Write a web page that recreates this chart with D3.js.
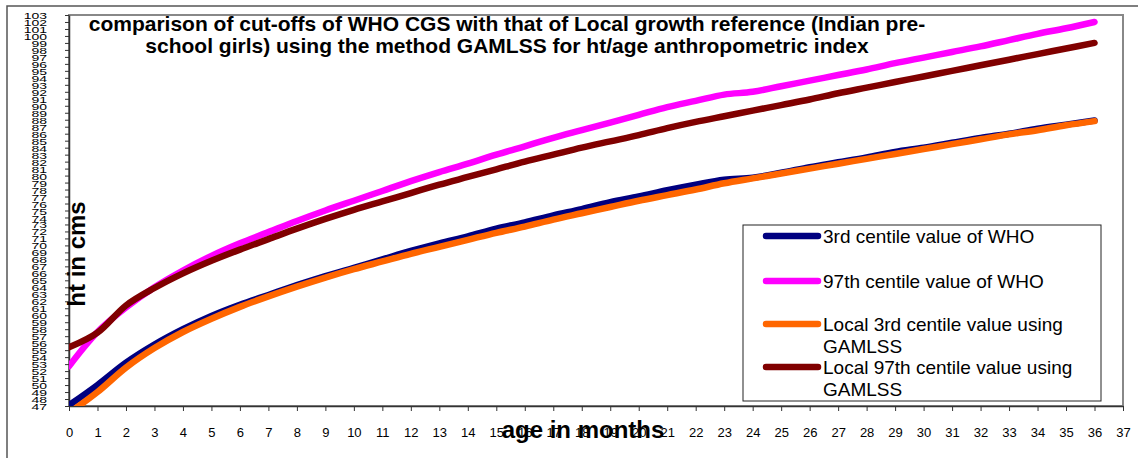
<!DOCTYPE html>
<html>
<head>
<meta charset="utf-8">
<script src="https://cdn.jsdelivr.net/npm/d3@7"></script>
<style>
    body { margin: 0; background: #fff; }
    svg { display: block; font-family: Arial, "Liberation Sans", sans-serif; }
</style>
</head>
<body>
<div id="chart"></div>
<script>
// age in months (x) and the four centile series (ht in cms)
const months = [0, 1, 2, 3, 4, 5, 6, 7, 8, 9, 10, 11, 12, 13, 14, 15, 16, 17, 18,
    19, 20, 21, 22, 23, 24, 25, 26, 27, 28, 29, 30, 31, 32, 33, 34, 35, 36];

const who3 = [47.1, 50.0, 53.2, 55.8, 58.0, 59.9, 61.5, 62.9, 64.3, 65.6, 66.8, 68.0, 69.2,
    70.3, 71.3, 72.4, 73.3, 74.3, 75.2, 76.2, 77.0, 77.9, 78.7, 79.4, 79.7, 80.4, 81.2,
    81.9, 82.6, 83.4, 84.0, 84.7, 85.4, 86.0, 86.7, 87.3, 87.9];

const who97 = [52.7, 57.6, 61.1, 64.0, 66.4, 68.5, 70.3, 71.9, 73.5, 75.0, 76.4, 77.8, 79.2,
    80.5, 81.7, 83.0, 84.2, 85.4, 86.5, 87.6, 88.7, 89.8, 90.7, 91.6, 92.0, 92.8, 93.6,
    94.4, 95.2, 96.1, 96.9, 97.7, 98.5, 99.4, 100.3, 101.1, 102.0];

const local3 = [46.0, 49.0, 52.5, 55.3, 57.6, 59.5, 61.2, 62.7, 64.1, 65.4, 66.6, 67.7, 68.8,
    69.8, 70.8, 71.8, 72.7, 73.7, 74.6, 75.5, 76.4, 77.2, 78.0, 78.9, 79.6, 80.3, 81.0,
    81.7, 82.4, 83.1, 83.8, 84.5, 85.2, 85.9, 86.5, 87.2, 87.8];

const local97 = [55.4, 57.5, 61.4, 63.9, 66.0, 67.8, 69.4, 70.9, 72.4, 73.8, 75.1, 76.3, 77.5,
    78.7, 79.8, 80.9, 82.0, 83.0, 84.0, 84.9, 85.8, 86.8, 87.7, 88.5, 89.3, 90.1, 90.9,
    91.8, 92.6, 93.4, 94.2, 95.0, 95.8, 96.6, 97.4, 98.2, 99.0];

const xTicks = [0, 1, 2, 3, 4, 5, 6, 7, 8, 9, 10, 11, 12, 13, 14, 15, 16, 17, 18, 19,
    20, 21, 22, 23, 24, 25, 26, 27, 28, 29, 30, 31, 32, 33, 34, 35, 36, 37];
const yTicks = [47, 48, 49, 50, 51, 52, 53, 54, 55, 56, 57, 58, 59, 60, 61, 62, 63, 64, 65,
    66, 67, 68, 69, 70, 71, 72, 73, 74, 75, 76, 77, 78, 79, 80, 81, 82, 83, 84, 85, 86,
    87, 88, 89, 90, 91, 92, 93, 94, 95, 96, 97, 98, 99, 100, 101, 102, 103];

const titleLines = [
    'comparison of cut-offs of WHO CGS with that of Local growth reference (Indian pre-',
    'school girls) using the method GAMLSS for ht/age anthropometric index'
];
const seriesNames = [
    ['3rd centile value of WHO'],
    ['97th centile value of WHO'],
    ['Local 3rd centile value using', 'GAMLSS'],
    ['Local 97th centile value using', 'GAMLSS']
];
const seriesColors = ['#000080', '#ff00ff', '#ff6600', '#800000'];

const width = 1138, height = 458;
const plot = { left: 69, right: 1123, top: 15, bottom: 406 };

const svg = d3.select('#chart').append('svg')
    .attr('width', width)
    .attr('height', height);

// outer chart border
svg.append('rect')
    .attr('x', 7).attr('y', 6)
    .attr('width', width + 10).attr('height', height + 10)
    .attr('fill', 'none')
    .attr('stroke', '#555')
    .attr('stroke-width', 1.5);

const x = d3.scaleLinear().domain([0, 37]).range([plot.left, plot.right]);
const y = d3.scaleLinear().domain([47, 103]).range([plot.bottom, plot.top]);

// plot area border
svg.append('rect')
    .attr('x', plot.left).attr('y', plot.top)
    .attr('width', plot.right - plot.left).attr('height', plot.bottom - plot.top)
    .attr('fill', 'none')
    .attr('stroke', '#888')
    .attr('stroke-width', 2);

svg.append('clipPath').attr('id', 'clip')
    .append('rect')
    .attr('x', plot.left).attr('y', plot.top)
    .attr('width', plot.right - plot.left).attr('height', plot.bottom - plot.top);

// x axis
const xAxis = svg.append('g')
    .attr('transform', `translate(0,${plot.bottom})`)
    .call(d3.axisBottom(x).tickValues(xTicks).tickSize(5).tickSizeOuter(0).tickFormat(d3.format('d')));
xAxis.select('.domain').attr('stroke', '#333').attr('stroke-width', 1.5);
xAxis.selectAll('.tick line').attr('stroke', '#333');
xAxis.selectAll('.tick text')
    .attr('y', 22)
    .attr('font-size', 13)
    .attr('fill', '#000')
    .attr('font-family', 'Arial, "Liberation Sans", sans-serif');

// y axis (labels are squeezed together like in the original)
const yAxis = svg.append('g')
    .attr('transform', `translate(${plot.left},0)`)
    .call(d3.axisLeft(y).tickValues(yTicks).tickSize(4).tickSizeOuter(0).tickFormat(d3.format('d')));
yAxis.select('.domain').attr('stroke', '#333').attr('stroke-width', 1.5);
yAxis.selectAll('.tick line').attr('stroke', '#333');
yAxis.selectAll('.tick text')
    .attr('x', -22)
    .attr('dy', '0.36em')
    .attr('font-size', 14)
    .attr('fill', '#000')
    .attr('font-family', 'Arial, "Liberation Sans", sans-serif')
    .attr('transform', 'scale(1,0.7)');

// lines
const series = [who3, who97, local3, local97];
const line = d3.line()
    .x((d, i) => x(months[i]))
    .y(d => y(d))
    .curve(d3.curveCatmullRom);

svg.append('g')
    .attr('clip-path', 'url(#clip)')
    .selectAll('path')
    .data(series)
    .enter()
    .append('path')
    .attr('d', d => line(d))
    .attr('fill', 'none')
    .attr('stroke', (d, i) => seriesColors[i])
    .attr('stroke-width', 6.5)
    .attr('stroke-linecap', 'round')
    .attr('stroke-linejoin', 'round');

// title
svg.append('g').selectAll('text')
    .data(titleLines)
    .enter()
    .append('text')
    .attr('x', 507)
    .attr('y', (d, i) => 31 + i * 22)
    .attr('text-anchor', 'middle')
    .attr('font-size', 21)
    .attr('font-weight', 'bold')
    .text(d => d);

// axis titles
svg.append('text')
    .attr('x', 583)
    .attr('y', 438)
    .attr('text-anchor', 'middle')
    .attr('font-size', 24)
    .attr('font-weight', 'bold')
    .text('age in months');

svg.append('text')
    .attr('transform', 'translate(85,254) rotate(-90)')
    .attr('text-anchor', 'middle')
    .attr('font-size', 24)
    .attr('font-weight', 'bold')
    .text('ht in cms');

// legend
const legend = svg.append('g');
legend.append('rect')
    .attr('x', 743).attr('y', 225)
    .attr('width', 358).attr('height', 176)
    .attr('fill', '#fff')
    .attr('stroke', '#222')
    .attr('stroke-width', 1);

const legendY = [236, 281, 324, 367];
const items = legend.selectAll('g.item')
    .data(seriesNames)
    .enter()
    .append('g')
    .attr('class', 'item')
    .attr('transform', (d, i) => `translate(0,${legendY[i]})`);

items.append('line')
    .attr('x1', 766).attr('x2', 818)
    .attr('y1', 0).attr('y2', 0)
    .attr('stroke', (d, i) => seriesColors[i])
    .attr('stroke-width', 6.5)
    .attr('stroke-linecap', 'round');

items.each(function (d) {
    d3.select(this).selectAll('text')
        .data(d)
        .enter()
        .append('text')
        .attr('x', 823)
        .attr('y', (t, j) => 7 + j * 22)
        .attr('font-size', 19)
        .attr('fill', '#000')
        .text(t => t);
});
</script>
</body>
</html>
